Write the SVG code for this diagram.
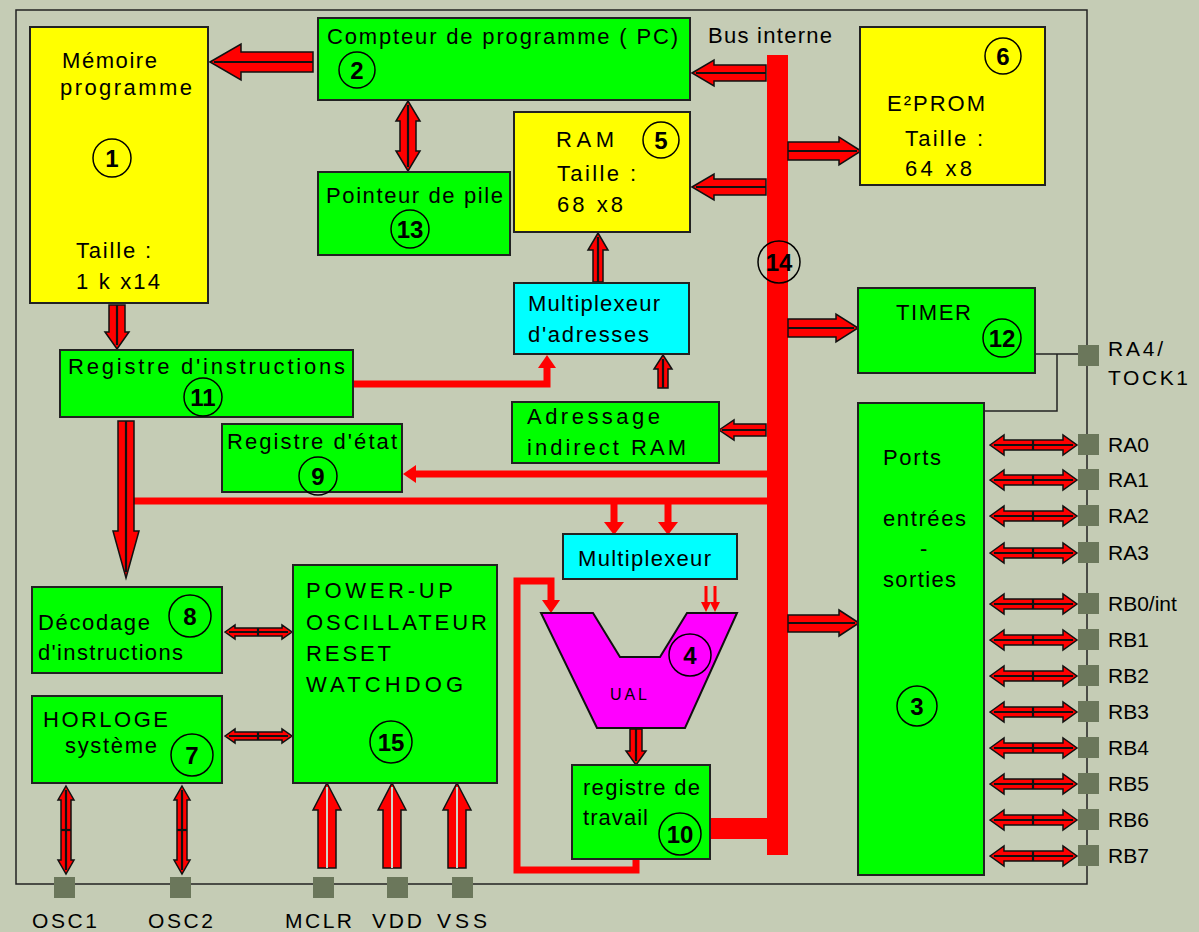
<svg xmlns="http://www.w3.org/2000/svg" xmlns:xlink="http://www.w3.org/1999/xlink" width="1199" height="932" viewBox="0 0 1199 932">
<style>
text{font-family:"Liberation Sans",Arial,sans-serif;font-size:22px;fill:#000}
.bx{stroke:#222;stroke-width:2}
.y{fill:#ffff00}.g{fill:#00ff00}.c{fill:#00ffff}
.num{font-weight:bold;font-size:24px;text-anchor:middle}
.cir{fill:none;stroke:#000;stroke-width:1.5}
.fa{fill:#ff0000;stroke:#111;stroke-width:1.5;stroke-linejoin:miter}
.fc{stroke:#111;stroke-width:2.2;fill:none}
.fl{stroke:#d0d4c8;stroke-width:2;fill:none}
.tl{stroke:#ff0000;stroke-width:7;fill:none}
.hd{fill:#ff0000}
.pin{fill:#6b775b}
.wire{stroke:#222;stroke-width:1.5;fill:none}
.pl{font-size:21px}
.sm{font-size:16px}
</style>
<defs>
<g id="pa">
<polygon class="fa" points="990,0 1004,-10 1004,-5 1063,-5 1063,-10 1077,0 1063,10 1063,5 1004,5 1004,10"/>
<line class="fc" x1="994" y1="0" x2="1073" y2="0"/>
<line class="fc" x1="1033" y1="-5" x2="1033" y2="5" stroke-width="1.5"/>
</g>
</defs>
<rect x="0" y="0" width="1199" height="932" fill="#c5ccb5"/>
<rect x="16" y="10" width="1071" height="874" fill="none" stroke="#222" stroke-width="1.5"/>

<g id="connectors">
<!-- internal bus -->
<rect x="767" y="55" width="21" height="800" fill="#ff0000"/>
<rect x="711" y="818" width="58" height="21" fill="#ff0000"/>
<!-- thin red lines -->
<path class="tl" d="M353,384 H547 V366"/>
<polygon class="hd" points="547,355 556,368 538,368"/>
<path class="tl" d="M767,474 H414"/>
<polygon class="hd" points="403,474 416,465 416,483"/>
<path class="tl" d="M130,501 H767"/>
<path class="tl" d="M614,501 V524"/>
<polygon class="hd" points="614,535 604,522 624,522"/>
<path class="tl" d="M668,501 V524"/>
<polygon class="hd" points="668,535 658,522 678,522"/>
<path class="tl" d="M636,860 V870 H517 V581 H551 V602"/>
<polygon class="hd" points="551,613 542,600 560,600"/>
<path d="M706,586 V604 M715,586 V604" stroke="#ff0000" stroke-width="3" fill="none"/>
<polygon class="hd" points="706,612 701,602 711,602"/>
<polygon class="hd" points="715,612 710,602 720,602"/>
<!-- fat arrows -->
<polygon class="fa" points="210,62 241,44 241,52 313,52 313,72 241,72 241,80"/>
<line class="fc" x1="214" y1="62" x2="313" y2="62"/>
<polygon class="fa" points="692,73 714,60 714,65 766,65 766,81 714,81 714,86"/>
<line class="fc" x1="696" y1="73" x2="766" y2="73"/>
<polygon class="fa" points="861,151 839,137 839,142 788,142 788,160 839,160 839,165"/>
<line class="fc" x1="788" y1="151" x2="857" y2="151"/>
<polygon class="fa" points="692,187 714,174 714,179 766,179 766,195 714,195 714,200"/>
<line class="fc" x1="696" y1="187" x2="766" y2="187"/>
<polygon class="fa" points="858,328 836,314 836,319 788,319 788,337 836,337 836,342"/>
<line class="fc" x1="788" y1="328" x2="854" y2="328"/>
<polygon class="fa" points="859,623 839,610 839,615 788,615 788,632 839,632 839,636"/>
<line class="fc" x1="788" y1="623" x2="855" y2="623"/>
<polygon class="fa" points="719,430 734,420 734,424 766,424 766,436 734,436 734,440"/>
<line class="fc" x1="722" y1="430" x2="766" y2="430"/>
<polygon class="fa" points="408,101 420,121 416,121 416,151 420,151 408,171 396,151 400,151 400,121 396,121"/>
<line class="fc" x1="408" y1="105" x2="408" y2="167"/>
<polygon class="fa" points="117,349 129,332 125,332 125,305 109,305 109,332 105,332"/>
<line class="fc" x1="117" y1="305" x2="117" y2="345"/>
<polygon class="fa" points="598,233 608,250 603,250 603,282 593,282 593,250 588,250"/>
<line class="fc" x1="598" y1="237" x2="598" y2="282"/>
<polygon class="fa" points="663,355 672,369 668,369 668,388 658,388 658,369 654,369"/>
<line class="fc" x1="663" y1="359" x2="663" y2="388"/>
<polygon class="fa" points="126,578 139,531 134,531 134,421 118,421 118,531 113,531"/>
<line class="fc" x1="126" y1="421" x2="126" y2="572"/>
<polygon class="fa" points="225,632 235,625 235,628 282,628 282,625 292,632 282,639 282,636 235,636 235,639"/>
<line class="fc" x1="229" y1="632" x2="288" y2="632"/>
<line class="fc" x1="258" y1="628" x2="258" y2="636" stroke-width="1.5"/>
<polygon class="fa" points="225,736 235,729 235,732 282,732 282,729 292,736 282,743 282,740 235,740 235,743"/>
<line class="fc" x1="229" y1="736" x2="288" y2="736"/>
<line class="fc" x1="258" y1="732" x2="258" y2="740" stroke-width="1.5"/>
<polygon class="fa" points="66,786 74,800 71,800 71,860 74,860 66,874 58,860 61,860 61,800 58,800"/>
<line class="fc" x1="66" y1="790" x2="66" y2="870"/>
<line class="fc" x1="61" y1="830" x2="71" y2="830" stroke-width="1.5"/>
<polygon class="fa" points="182,786 190,800 187,800 187,860 190,860 182,874 174,860 177,860 177,800 174,800"/>
<line class="fc" x1="182" y1="790" x2="182" y2="870"/>
<line class="fc" x1="177" y1="830" x2="187" y2="830" stroke-width="1.5"/>
<polygon class="fa" points="327,783 341,810 336,810 336,868 318,868 318,810 313,810"/>
<line class="fl" x1="327" y1="787" x2="327" y2="868"/>
<polygon class="fa" points="392,783 406,810 401,810 401,868 383,868 383,810 378,810"/>
<line class="fl" x1="392" y1="787" x2="392" y2="868"/>
<polygon class="fa" points="457,783 471,810 466,810 466,868 448,868 448,810 443,810"/>
<line class="fl" x1="457" y1="787" x2="457" y2="868"/>
<polygon class="fa" points="636,765 646,751 642,751 642,729 630,729 630,751 626,751"/>
<line class="fc" x1="636" y1="729" x2="636" y2="761"/>
<!-- port arrows -->
<use xlink:href="#pa" href="#pa" y="445"/>
<use xlink:href="#pa" href="#pa" y="480"/>
<use xlink:href="#pa" href="#pa" y="516"/>
<use xlink:href="#pa" href="#pa" y="553"/>
<use xlink:href="#pa" href="#pa" y="604"/>
<use xlink:href="#pa" href="#pa" y="640"/>
<use xlink:href="#pa" href="#pa" y="676"/>
<use xlink:href="#pa" href="#pa" y="712"/>
<use xlink:href="#pa" href="#pa" y="748"/>
<use xlink:href="#pa" href="#pa" y="784"/>
<use xlink:href="#pa" href="#pa" y="820"/>
<use xlink:href="#pa" href="#pa" y="856"/>
<!-- black wires -->
<path class="wire" d="M1035,354 H1078 M1057,354 V411 H984"/>
</g>

<text x="708" y="43" textLength="124" lengthAdjust="spacing">Bus interne</text>

<g id="n1">
<rect class="bx y" x="30" y="27" width="178" height="276"/>
<text x="62" y="68" textLength="95" lengthAdjust="spacing">Mémoire</text>
<text x="60" y="95" textLength="132" lengthAdjust="spacing">programme</text>
<circle class="cir" cx="112" cy="158" r="19"/><text class="num" x="112" y="167">1</text>
<text x="76" y="258" textLength="75" lengthAdjust="spacing">Taille :</text>
<text x="76" y="289" textLength="84" lengthAdjust="spacing">1 k x14</text>
</g>
<g id="n2">
<rect class="bx g" x="318" y="18" width="372" height="82"/>
<text x="327" y="44" textLength="351" lengthAdjust="spacing">Compteur de programme ( PC)</text>
<circle class="cir" cx="357" cy="70" r="18"/><text class="num" x="357" y="79">2</text>
</g>
<g id="n5">
<rect class="bx y" x="514" y="112" width="176" height="120"/>
<text x="556" y="147" textLength="58" lengthAdjust="spacing">RAM</text>
<circle class="cir" cx="661" cy="140" r="18"/><text class="num" x="661" y="149">5</text>
<text x="557" y="181" textLength="79" lengthAdjust="spacing">Taille :</text>
<text x="557" y="212" textLength="66" lengthAdjust="spacing">68 x8</text>
</g>
<g id="n6">
<rect class="bx y" x="860" y="27" width="185" height="158"/>
<circle class="cir" cx="1003" cy="56" r="18"/><text class="num" x="1003" y="65">6</text>
<text x="887" y="111" textLength="98" lengthAdjust="spacing">E²PROM</text>
<text x="905" y="146" textLength="78" lengthAdjust="spacing">Taille :</text>
<text x="905" y="176" textLength="67" lengthAdjust="spacing">64 x8</text>
</g>
<g id="n13">
<rect class="bx g" x="318" y="172" width="192" height="83"/>
<text x="326" y="203" textLength="177" lengthAdjust="spacing">Pointeur de pile</text>
<circle class="cir" cx="410" cy="229" r="19"/><text class="num" x="410" y="238">13</text>
</g>
<g id="mux-adr">
<rect class="bx c" x="514" y="283" width="175" height="71"/>
<text x="528" y="311" textLength="132" lengthAdjust="spacing">Multiplexeur</text>
<text x="528" y="342" textLength="121" lengthAdjust="spacing">d'adresses</text>
</g>
<g id="n11">
<rect class="bx g" x="60" y="350" width="293" height="67"/>
<text x="68" y="374" textLength="277" lengthAdjust="spacing">Registre d'instructions</text>
<circle class="cir" cx="203" cy="397" r="19"/><text class="num" x="203" y="406">11</text>
</g>
<g id="adr-ind">
<rect class="bx g" x="512" y="402" width="207" height="61"/>
<text x="527" y="424" textLength="133" lengthAdjust="spacing">Adressage</text>
<text x="527" y="455" textLength="159" lengthAdjust="spacing">indirect RAM</text>
</g>
<g id="n9">
<rect class="bx g" x="222" y="424" width="180" height="68"/>
<text x="227" y="449" textLength="170" lengthAdjust="spacing">Registre d'état</text>
<circle class="cir" cx="318" cy="476" r="19"/><text class="num" x="318" y="485">9</text>
</g>
<g id="mux">
<rect class="bx c" x="563" y="534" width="174" height="45"/>
<text x="578" y="566" textLength="133" lengthAdjust="spacing">Multiplexeur</text>
</g>
<g id="n8">
<rect class="bx g" x="32" y="587" width="190" height="86"/>
<text x="38" y="630" textLength="112" lengthAdjust="spacing">Décodage</text>
<text x="38" y="660" textLength="145" lengthAdjust="spacing">d'instructions</text>
<circle class="cir" cx="190" cy="616" r="21"/><text class="num" x="190" y="625">8</text>
</g>
<g id="n7">
<rect class="bx g" x="32" y="696" width="190" height="87"/>
<text x="43" y="727" textLength="125" lengthAdjust="spacing">HORLOGE</text>
<text x="65" y="753" textLength="92" lengthAdjust="spacing">système</text>
<circle class="cir" cx="192" cy="755" r="21"/><text class="num" x="192" y="764">7</text>
</g>
<g id="n15">
<rect class="bx g" x="293" y="565" width="204" height="218"/>
<text x="306" y="598" textLength="147" lengthAdjust="spacing">POWER-UP</text>
<text x="306" y="630" textLength="181" lengthAdjust="spacing">OSCILLATEUR</text>
<text x="306" y="661" textLength="85" lengthAdjust="spacing">RESET</text>
<text x="306" y="692" textLength="157" lengthAdjust="spacing">WATCHDOG</text>
<circle class="cir" cx="391" cy="742" r="21"/><text class="num" x="391" y="751">15</text>
</g>
<g id="n4">
<polygon points="541,613 593,613 620,657 660,657 687,613 737,613 685,728 597,728" fill="#ff00ff" stroke="#111" stroke-width="2"/>
<circle class="cir" cx="690" cy="655" r="21"/><text class="num" x="690" y="664">4</text>
<text class="sm" x="610" y="700" textLength="37" lengthAdjust="spacing">UAL</text>
</g>
<g id="n10">
<rect class="bx g" x="572" y="765" width="138" height="94"/>
<text x="583" y="795" textLength="117" lengthAdjust="spacing">registre de</text>
<text x="583" y="825" textLength="65" lengthAdjust="spacing">travail</text>
<circle class="cir" cx="680" cy="834" r="21"/><text class="num" x="680" y="843">10</text>
</g>
<g id="n12">
<rect class="bx g" x="858" y="288" width="177" height="85"/>
<text x="896" y="320" textLength="75" lengthAdjust="spacing">TIMER</text>
<circle class="cir" cx="1002" cy="338" r="19"/><text class="num" x="1002" y="347">12</text>
</g>
<g id="n3">
<rect class="bx g" x="858" y="403" width="126" height="472"/>
<text x="883" y="465" textLength="58" lengthAdjust="spacing">Ports</text>
<text x="883" y="526" textLength="83" lengthAdjust="spacing">entrées</text>
<text x="920" y="556">-</text>
<text x="883" y="587" textLength="73" lengthAdjust="spacing">sorties</text>
<circle class="cir" cx="917" cy="706" r="20"/><text class="num" x="917" y="715">3</text>
</g>
<g id="n14">
<circle class="cir" cx="779" cy="262" r="21"/><text class="num" x="779" y="271">14</text>
</g>

<g id="pins">
<g id="pin-RA4"><rect class="pin" x="1078" y="345" width="21" height="21"/><text class="pl" x="1108" y="356" textLength="55" lengthAdjust="spacing">RA4/</text><text class="pl" x="1108" y="385" textLength="80" lengthAdjust="spacing">TOCK1</text></g>
<g id="pin-RA0"><rect class="pin" x="1078" y="434" width="21" height="21"/><text class="pl" x="1108" y="452">RA0</text></g>
<g id="pin-RA1"><rect class="pin" x="1078" y="469" width="21" height="21"/><text class="pl" x="1108" y="487">RA1</text></g>
<g id="pin-RA2"><rect class="pin" x="1078" y="505" width="21" height="21"/><text class="pl" x="1108" y="523">RA2</text></g>
<g id="pin-RA3"><rect class="pin" x="1078" y="542" width="21" height="21"/><text class="pl" x="1108" y="560">RA3</text></g>
<g id="pin-RB0"><rect class="pin" x="1078" y="593" width="21" height="21"/><text class="pl" x="1108" y="611">RB0/int</text></g>
<g id="pin-RB1"><rect class="pin" x="1078" y="629" width="21" height="21"/><text class="pl" x="1108" y="647">RB1</text></g>
<g id="pin-RB2"><rect class="pin" x="1078" y="665" width="21" height="21"/><text class="pl" x="1108" y="683">RB2</text></g>
<g id="pin-RB3"><rect class="pin" x="1078" y="701" width="21" height="21"/><text class="pl" x="1108" y="719">RB3</text></g>
<g id="pin-RB4"><rect class="pin" x="1078" y="737" width="21" height="21"/><text class="pl" x="1108" y="755">RB4</text></g>
<g id="pin-RB5"><rect class="pin" x="1078" y="773" width="21" height="21"/><text class="pl" x="1108" y="791">RB5</text></g>
<g id="pin-RB6"><rect class="pin" x="1078" y="809" width="21" height="21"/><text class="pl" x="1108" y="827">RB6</text></g>
<g id="pin-RB7"><rect class="pin" x="1078" y="845" width="21" height="21"/><text class="pl" x="1108" y="863">RB7</text></g>
<g id="pin-OSC1"><rect class="pin" x="54" y="877" width="21" height="21"/><text class="pl" x="32" y="928" textLength="65" lengthAdjust="spacing">OSC1</text></g>
<g id="pin-OSC2"><rect class="pin" x="170" y="877" width="21" height="21"/><text class="pl" x="148" y="928" textLength="65" lengthAdjust="spacing">OSC2</text></g>
<g id="pin-MCLR"><rect class="pin" x="313" y="877" width="21" height="21"/><text class="pl" x="285" y="928" textLength="67" lengthAdjust="spacing">MCLR</text></g>
<g id="pin-VDD"><rect class="pin" x="387" y="877" width="21" height="21"/><text class="pl" x="372" y="928" textLength="50" lengthAdjust="spacing">VDD</text></g>
<g id="pin-VSS"><rect class="pin" x="452" y="877" width="21" height="21"/><text class="pl" x="437" y="928" textLength="50" lengthAdjust="spacing">VSS</text></g>
</g>
</svg>
